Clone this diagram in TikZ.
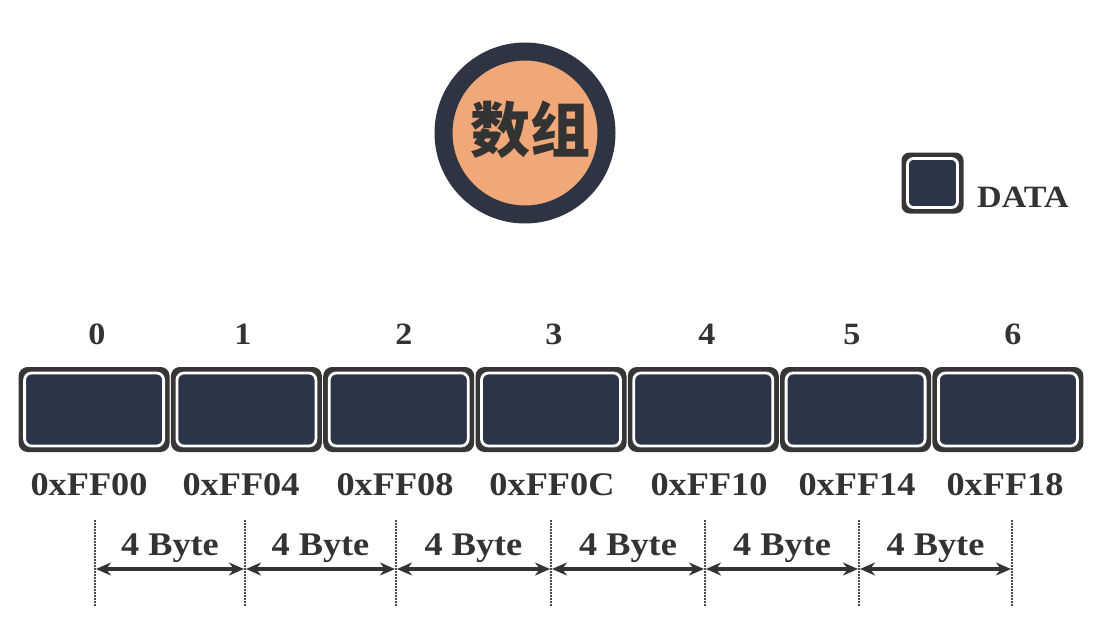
\documentclass[tikz,border=0pt]{standalone}
\usepackage{fontspec}
\setmainfont[FakeStretch=1.1]{Liberation Serif}
\newfontfamily\cjk{Noto Sans CJK SC}
\usetikzlibrary{arrows.meta,calc}
\definecolor{ringc}{HTML}{2E3441}
\definecolor{orangec}{HTML}{F0A878}
\definecolor{framec}{HTML}{363636}
\definecolor{cellc}{HTML}{2C3547}
\definecolor{textc}{HTML}{333333}
\definecolor{dotc}{HTML}{4A4A4A}
\tikzset{
  outerbox/.style={fill=framec, rounded corners=9pt, inner sep=0pt, minimum width=151pt, minimum height=85pt},
  innerbox/.style={fill=cellc, draw=white, line width=2.8pt, rounded corners=7pt, inner sep=0pt, minimum width=139pt, minimum height=73pt},
  lbl/.style={font=\bfseries\fontsize{33}{38}\selectfont, text=textc, inner sep=0pt},
  idx/.style={font=\bfseries\fontsize{31}{36}\selectfont, text=textc, inner sep=0pt},
  dotline/.style={dotc, line width=2.4pt, dash pattern=on 1.5pt off 1.5pt},
  sizearrow/.style={textc, line width=3.2pt, {Stealth[length=15pt,width=13pt]}-{Stealth[length=15pt,width=13pt]}, shorten <=1pt, shorten >=1pt},
}
\begin{document}
\begin{tikzpicture}[x=1pt,y=-1pt]
\useasboundingbox[fill=white] (0,0) rectangle (1096,621);
% title circle
\node[circle, fill=orangec, draw=ringc, line width=18pt, minimum size=163pt, inner sep=0pt] (title) at (525,133) {};
\node[font=\cjk\bfseries\fontsize{60}{66}\selectfont, text=textc, inner sep=0pt] (titletext) at (530,130) {数组};
% legend
\node[outerbox, minimum width=62pt, minimum height=61pt, rounded corners=8pt] (leg) at (932.5,183) {};
\node[innerbox, minimum width=50pt, minimum height=49pt, rounded corners=6pt] (legin) at (leg.center) {};
\node[lbl, font=\bfseries\fontsize{31}{34}\selectfont, anchor=west] (legtext) at (977,197) {DATA};
% cells
\foreach \i/\cx/\ix/\ax/\addr in {0/94.1/97/89/0xFF00, 1/246.4/243/241/0xFF04, 2/398.7/404/395/0xFF08, 3/551/554/552/0xFF0C, 4/703.3/707/709/0xFF10, 5/855.6/852/857/0xFF14, 6/1007.9/1013/1005/0xFF18}{
  \node[outerbox] (c\i) at (\cx,409.5) {};
  \node[innerbox] (c\i in) at (c\i.center) {};
  \node[idx] (n\i) at (\ix,334) {\i};
  \node[lbl] (a\i) at (\ax,485) {\addr};
}
% dotted lines
\foreach \i/\x in {0/95, 1/245, 2/396, 3/551, 4/705, 5/859, 6/1012}{
  \coordinate (t\i) at (\x,520);
  \coordinate (b\i) at (\x,606);
  \coordinate (m\i) at (\x,569);
  \draw[dotline] (t\i) -- (b\i);
}
% arrows and labels
\foreach \i/\j in {0/1, 1/2, 2/3, 3/4, 4/5, 5/6}{
  \draw[sizearrow] (m\i) -- (m\j);
  \node[lbl] (s\i) at ($(m\i)!0.5!(m\j)+(0,-21)$) {4 Byte};
}
\end{tikzpicture}
\end{document}
